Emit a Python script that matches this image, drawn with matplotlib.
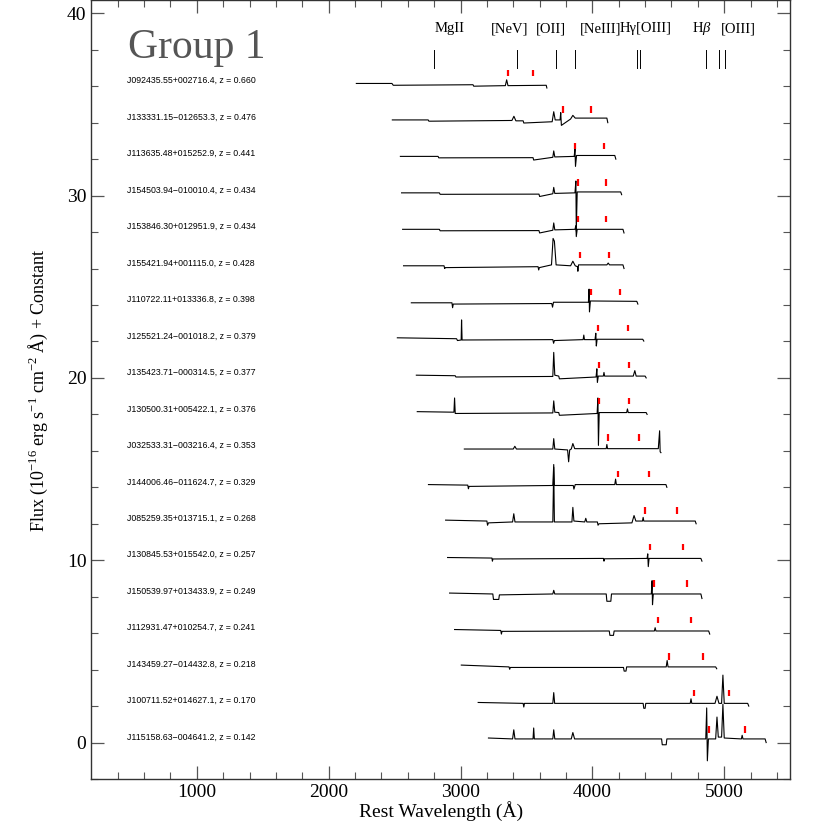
import matplotlib
matplotlib.use("Agg")
import matplotlib.pyplot as plt

plt.rcParams["font.family"] = ["Liberation Serif", "DejaVu Serif"]
plt.rcParams["mathtext.fontset"] = "custom"
plt.rcParams["mathtext.rm"] = "Liberation Serif"
plt.rcParams["mathtext.it"] = "Liberation Serif:italic"

# Objects, top to bottom
names = [
    "J092435.55+002716.4", "J133331.15\u2212012653.3", "J113635.48+015252.9",
    "J154503.94\u2212010010.4", "J153846.30+012951.9", "J155421.94+001115.0",
    "J110722.11+013336.8", "J125521.24\u2212001018.2", "J135423.71\u2212000314.5",
    "J130500.31+005422.1", "J032533.31\u2212003216.4", "J144006.46\u2212011624.7",
    "J085259.35+013715.1", "J130845.53+015542.0", "J150539.97+013433.9",
    "J112931.47+010254.7", "J143459.27\u2212014432.8", "J100711.52+014627.1",
    "J115158.63\u2212004641.2",
]
redshifts = ["0.660", "0.476", "0.441", "0.434", "0.434", "0.428", "0.398", "0.379",
             "0.377", "0.376", "0.353", "0.329", "0.268", "0.257", "0.249", "0.241",
             "0.218", "0.170", "0.142"]

# spectra (rest wavelength, flux relative to the offset)
spec_wave = [
    [2210, 2480, 2490, 3095, 3100, 3340, 3350, 3360, 3650, 3655],
    [2483, 2755, 2760, 3390, 3405, 3420, 3475, 3480, 3695, 3707, 3718, 3755, 3760, 3765, 3835, 3852, 3870, 4110, 4117],
    [2544, 2830, 2835, 3550, 3555, 3700, 3707, 3715, 3862, 3868, 3872, 3880, 4170, 4178],
    [2553, 2840, 2845, 3595, 3600, 3700, 3707, 3715, 3868, 3875, 3878, 3885, 4215, 4222],
    [2561, 2840, 2845, 3595, 3600, 3700, 3707, 3715, 3868, 3875, 3878, 3885, 4232, 4240],
    [2568, 2875, 2880, 2885, 3588, 3593, 3598, 3690, 3702, 3712, 3725, 3835, 3852, 3870, 3887, 3890, 3895, 4110, 4120, 4130, 4232, 4240],
    [2627, 2935, 2940, 2945, 3692, 3698, 3705, 3970, 3975, 3978, 3985, 4337, 4345],
    [2521, 2970, 2977, 3005, 3008, 3012, 3700, 3706, 3712, 3930, 3935, 3940, 4020, 4026, 4030, 4036, 4382, 4390],
    [2665, 2960, 2965, 3700, 3707, 3715, 3745, 3750, 4028, 4034, 4038, 4045, 4083, 4088, 4093, 4310, 4322, 4332, 4400, 4408],
    [2672, 2950, 2955, 2960, 3700, 3707, 3715, 3745, 3750, 4036, 4042, 4046, 4052, 4260, 4266, 4272, 4408, 4415],
    [3029, 3400, 3412, 3424, 3700, 3707, 3715, 3812, 3820, 3828, 3840, 3852, 3866, 4105, 4110, 4115, 4500, 4510, 4514, 4520],
    [2757, 3055, 3060, 3065, 3700, 3707, 3712, 3855, 3860, 3870, 4170, 4176, 4182, 4558, 4565],
    [2887, 3200, 3205, 3212, 3395, 3404, 3413, 3700, 3707, 3712, 3845, 3852, 3860, 3942, 3950, 3958, 4038, 4043, 4050, 4300, 4316, 4330, 4380, 4385, 4390, 4780, 4787],
    [2902, 3238, 3242, 3246, 4084, 4088, 4092, 4415, 4420, 4424, 4430, 4823, 4831],
    [2917, 3245, 3250, 3290, 3295, 3700, 3707, 3715, 4105, 4110, 4140, 4145, 4447, 4453, 4456, 4462, 4823, 4831],
    [2955, 3305, 3310, 3315, 4128, 4133, 4160, 4165, 4470, 4476, 4482, 4882, 4890],
    [3006, 3368, 3373, 3378, 4236, 4241, 4255, 4260, 4560, 4567, 4574, 4935, 4943],
    [3134, 3475, 3480, 3485, 3700, 3707, 3714, 4385, 4390, 4400, 4405, 4742, 4748, 4754, 4930, 4945, 4960, 4980, 4990, 5000, 5178, 5186],
    [3212, 3395, 3404, 3413, 3550, 3555, 3560, 3700, 3707, 3715, 3840, 3852, 3865, 4525, 4530, 4560, 4565, 4860, 4867, 4872, 4880, 4935, 4945, 4955, 4980, 4990, 5000, 5130, 5136, 5142, 5310, 5318],
]
spec_flux = [
    [0.15, 0.15, 0.05, 0.08, 0.0, 0.03, 0.35, 0.03, 0.05, -0.1],
    [0.15, 0.15, 0.08, 0.12, 0.35, 0.1, 0.1, -0.02, 0.05, 0.6, 0.15, 0.15, 0.55, -0.15, 0.2, 0.4, 0.25, 0.25, 0.0],
    [0.15, 0.15, 0.07, 0.08, -0.05, 0.1, 0.45, 0.12, 0.15, 0.55, -0.4, 0.2, 0.2, 0.0],
    [0.15, 0.15, 0.07, 0.08, -0.05, 0.1, 0.45, 0.12, 0.15, 0.8, -1.95, 0.2, 0.2, 0.05],
    [0.15, 0.15, 0.07, 0.08, -0.05, 0.1, 0.5, 0.12, 0.15, 0.35, -0.25, 0.15, 0.15, -0.05],
    [0.15, 0.15, 0.0, 0.05, 0.1, -0.08, 0.05, 0.2, 1.65, 1.5, 0.2, 0.15, 0.4, 0.15, 0.1, -0.15, 0.2, 0.2, 0.3, 0.2, 0.2, 0.0],
    [0.12, 0.12, -0.15, 0.05, 0.08, -0.12, 0.15, 0.15, 0.87, -0.38, 0.22, 0.2, 0.05],
    [0.2, 0.15, 0.05, 0.08, 1.18, 0.08, 0.1, -0.1, 0.05, 0.1, 0.35, 0.1, 0.1, 0.45, -0.25, 0.12, 0.12, 0.02],
    [0.15, 0.12, 0.05, 0.08, 1.4, 0.15, 0.1, -0.05, 0.05, 0.5, -0.25, 0.1, 0.1, 0.3, 0.1, 0.1, 0.4, 0.1, 0.1, 0.0],
    [0.15, 0.12, 0.9, 0.05, 0.08, 0.74, 0.12, 0.1, -0.05, 0.05, 0.9, -1.7, 0.1, 0.1, 0.3, 0.1, 0.1, 0.0],
    [0.1, 0.1, 0.25, 0.1, 0.1, 0.67, 0.1, 0.05, -0.6, 0.05, 0.1, 0.4, 0.12, 0.12, 0.35, 0.12, 0.12, 1.1, -0.05, -0.1],
    [0.15, 0.12, -0.08, 0.05, 0.1, 1.25, 0.1, 0.1, -0.1, 0.15, 0.15, 0.45, 0.15, 0.15, 0.0],
    [0.2, 0.15, -0.08, 0.05, 0.1, 0.55, 0.1, 0.1, 3.1, 0.1, 0.1, 0.9, 0.15, 0.1, 0.3, 0.1, 0.1, -0.08, 0.0, 0.05, 0.45, 0.15, 0.15, 0.35, 0.15, 0.15, 0.0],
    [0.15, 0.12, -0.05, 0.07, 0.1, -0.05, 0.08, 0.1, 0.35, -0.35, 0.1, 0.1, -0.05],
    [0.2, 0.15, -0.15, -0.15, 0.1, 0.15, 0.35, 0.15, 0.15, -0.25, -0.25, 0.15, 0.15, 0.88, -0.44, 0.15, 0.15, -0.1],
    [0.2, 0.15, -0.05, 0.1, 0.12, -0.12, -0.12, 0.12, 0.12, 0.3, 0.12, 0.12, -0.05],
    [0.25, 0.15, 0.02, 0.12, 0.12, -0.08, -0.08, 0.15, 0.15, 0.5, 0.15, 0.15, 0.05],
    [0.2, 0.15, -0.05, 0.15, 0.15, 0.74, 0.15, 0.15, -0.12, -0.12, 0.15, 0.15, 0.4, 0.15, 0.15, 0.54, 0.15, 0.15, 1.7, 0.15, 0.15, 0.0],
    [0.25, 0.2, 0.7, 0.2, 0.2, 0.8, 0.2, 0.2, 0.7, 0.2, 0.2, 0.55, 0.2, 0.2, -0.12, -0.12, 0.2, 0.2, 1.9, -1.0, 0.2, 0.2, 1.4, 0.3, 0.3, 2.1, 0.25, 0.2, 0.4, 0.2, 0.2, 0.0],
]

# red marks (rest wavelengths of the two night-sky lines per object)
sky_a = [3360, 3778, 3870, 3889, 3889, 3905, 3989, 4044, 4050, 4053, 4122, 4196, 4398, 4437, 4465, 4494, 4579, 4767, 4884]
sky_b = [3548, 3991, 4087, 4107, 4107, 4125, 4213, 4271, 4277, 4281, 4353, 4432, 4645, 4686, 4716, 4746, 4836, 5034, 5158]

# emission lines marked along the top
line_waves = [2798, 3426, 3727, 3869, 4340, 4363, 4861, 4959, 5007]
line_labels = ["MgII", "[NeV]", "[OII]", "[NeIII]", "H\u03b3[OIII]", "H$\\beta$", "[OIII]"]
label_waves = [2917, 3372, 3684, 4064, 4406, 4831, 5104]

fig = plt.figure(figsize=(8.3, 8.3), dpi=100)
ax = fig.add_axes([0.110, 0.0614, 0.842, 0.938])

n = len(names)
for i in range(n):
    off = 2 * (n - 1 - i)
    ax.plot(spec_wave[i], [off + f for f in spec_flux[i]], color="black", lw=0.8)
    for w in (sky_a[i], sky_b[i]):
        ax.plot([w, w], [off + 0.55, off + 0.9], color="red", lw=1.6, solid_capstyle="butt")
    ax.text(470, off + 0.3, f"{names[i]}, z = {redshifts[i]}", fontsize=6.3,
            family=["Liberation Sans", "DejaVu Sans"], va="center", ha="left")

for w in line_waves:
    ax.plot([w, w], [37.0, 38.0], color="black", lw=0.7)
for lab, w in zip(line_labels, label_waves):
    ax.text(w, 39.15, lab, fontsize=10.5, ha="center", va="center")

ax.text(477, 38.1, "Group 1", fontsize=30, color="#555555", va="center", ha="left")

ax.set_xlim(200, 5500)
ax.set_ylim(-2, 40.7)
ax.set_xticks([1000, 2000, 3000, 4000, 5000])
ax.set_xticks(range(400, 5500, 200), minor=True)
ax.set_yticks([0, 10, 20, 30, 40])
ax.set_yticks(range(-2, 41, 2), minor=True)
ax.tick_params(which="both", direction="in", top=True, right=True, labelsize=14, color="#555555")
ax.tick_params(which="major", length=9.5, width=0.9)
ax.tick_params(which="minor", length=5, width=0.8)
for s in ax.spines.values():
    s.set_linewidth(1.0)
    s.set_color("#333333")

ax.set_xlabel("Rest Wavelength (\u00c5)", fontsize=14, labelpad=0)
ax.set_ylabel("Flux (10$^{-16}$ erg s$^{-1}$ cm$^{-2}$ \u00c5) + Constant", fontsize=13, labelpad=12)

fig.savefig("out.png", dpi=100)
